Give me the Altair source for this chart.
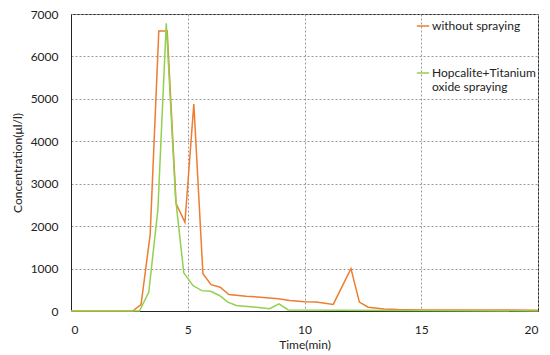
import altair as alt
import pandas as pd

# without spraying
t_without = [0, 2.64, 3.0, 3.39, 3.76, 4.12, 4.5, 4.88, 5.26, 5.65, 6.0, 6.39, 6.76,
             7.5, 8.25, 8.87, 9.37, 10.0, 10.5, 11.23, 11.99, 12.35, 12.73, 13.4, 14.0, 15, 20]
v_without = [0, 0, 150, 1800, 6600, 6600, 2530, 2090, 4880, 880, 620, 560, 390,
             350, 320, 290, 250, 220, 210, 155, 1000, 210, 90, 50, 35, 25, 20]

# Hopcalite+Titanium oxide spraying
t_hop = [0, 2.93, 3.33, 3.72, 4.08, 4.48, 4.83, 5.22, 5.6, 5.98, 6.36, 6.72, 7.08,
         7.8, 8.51, 8.91, 9.3, 20]
v_hop = [0, 0, 440, 2380, 6780, 2650, 900, 600, 480, 465, 365, 210, 130,
         95, 55, 170, 25, 0]

series_names = ["without spraying", "Hopcalite+Titanium oxide spraying"]
series_colors = ["#ED7D31", "#92D050"]

rows = []
for t, v in zip(t_without, v_without):
    rows.append({"time": t, "conc": v, "series": series_names[0], "order": 0})
for t, v in zip(t_hop, v_hop):
    rows.append({"time": t, "conc": v, "series": series_names[1], "order": 1})
df = pd.DataFrame(rows)

font = "Lato"

chart = alt.Chart(df).mark_line(strokeWidth=1.5).encode(
    x=alt.X("time:Q", title="Time(min)",
            scale=alt.Scale(domain=[0, 20], nice=False),
            axis=alt.Axis(values=[0, 5, 10, 15, 20], tickSize=0, labelPadding=13,
                          gridDash=[2, 2], gridColor="#9a9a9a", domainColor="#222",
                          labelFontSize=12, titleFontSize=12, titlePadding=4,
                          labelFont=font, titleFont=font, labelColor="#222",
                          titleColor="#222", titleFontWeight="normal")),
    y=alt.Y("conc:Q", title="Concentration(μl/l)",
            scale=alt.Scale(domain=[0, 7000], nice=False),
            axis=alt.Axis(values=list(range(0, 7001, 1000)), format="d", tickSize=0,
                          labelPadding=13,
                          gridDash=[2, 2], gridColor="#9a9a9a", domainColor="#222",
                          labelFontSize=12, titleFontSize=12, titlePadding=6,
                          labelFont=font, titleFont=font, labelColor="#222",
                          titleColor="#222", titleFontWeight="normal")),
    color=alt.Color("series:N",
                    scale=alt.Scale(domain=series_names, range=series_colors),
                    legend=alt.Legend(title=None, orient="none", legendX=345, legendY=5,
                                      symbolType="stroke", symbolSize=150, symbolStrokeWidth=1.5,
                                      labelFont=font, labelFontSize=12, labelColor="#222",
                                      rowPadding=34, labelOffset=2, padding=0,
                                      labelLimit=200,
                                      labelExpr="datum.label == 'Hopcalite+Titanium oxide spraying' ? ['Hopcalite+Titanium', 'oxide spraying'] : datum.label")),
    order=alt.Order("order:Q"),
    detail="series:N",
).properties(
    width=467, height=297,
    autosize=alt.AutoSizeParams(type="none"),
    padding={"left": 63, "top": 6, "right": 4, "bottom": 44},
).configure_view(stroke="#222", strokeWidth=1)

chart.save("out.html", embed_options={"renderer": "svg", "actions": False})
